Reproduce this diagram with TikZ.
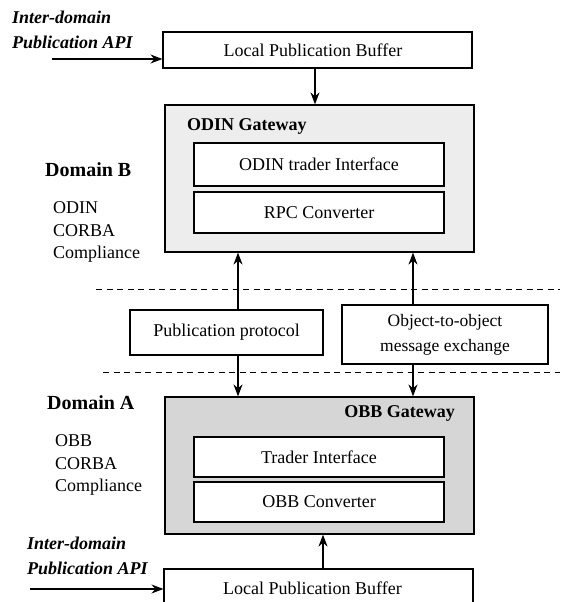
\documentclass[tikz,border=0pt]{standalone}
\usepackage{fontspec}
\setmainfont{Liberation Serif}
\usetikzlibrary{arrows.meta}
\begin{document}
\begin{tikzpicture}[x=1pt,y=-1pt,
  every node/.style={font=\fontsize{18}{21}\selectfont, inner sep=0pt},
  box/.style={draw, line width=1.1pt, fill=white},
  gw/.style={draw, line width=1.2pt},
  arr/.style={line width=1.1pt, -{Stealth[length=12pt,width=9pt]}},
  sep/.style={line width=1pt, dash pattern=on 6pt off 4.5pt},
  api/.style={font=\fontsize{18}{25}\selectfont\bfseries\itshape, align=left, anchor=west},
  dom/.style={font=\fontsize{20}{24}\selectfont\bfseries, anchor=west},
  comp/.style={font=\fontsize{18}{22.5}\selectfont, align=left, anchor=west}]
\useasboundingbox (0,0) rectangle (566,602);

% top buffer
\node[box, minimum width=309pt, minimum height=36pt] (topbuf) at (317.5,50) {};
\node (topbuft) at (313,50) {Local Publication Buffer};
\node[api] (apitop) at (12,29.5) {Inter-domain\\Publication API};
\coordinate (apitopstart) at (52,59);
\draw[arr] (apitopstart) -- (apitopstart -| topbuf.west);

% ODIN gateway
\node[gw, fill=gray!14, minimum width=309pt, minimum height=147pt] (odin) at (319.5,178.5) {};
\node[font=\fontsize{18}{21}\selectfont\bfseries, anchor=west] (odinl) at (187,126) {ODIN Gateway};
\node[box, minimum width=250pt, minimum height=43pt] (odintr) at (319,164.5) {ODIN trader Interface};
\node[box, minimum width=250pt, minimum height=41pt] (rpc) at (319,212.5) {RPC Converter};
\draw[arr] (topbuf.south -| 315,0) -- (odin.north -| 315,0);

\node[dom] (domb) at (45,170) {Domain B};
\node[comp] (compb) at (53,232) {ODIN\\CORBA\\Compliance};

% separators
\coordinate (s1a) at (96,289); \coordinate (s1b) at (560,289);
\coordinate (s2a) at (103,372); \coordinate (s2b) at (560,372);
\draw[sep] (s1a) -- (s1b);
\draw[sep] (s2a) -- (s2b);

% protocol boxes
\node[box, minimum width=193pt, minimum height=45pt] (pub) at (226.5,332.5) {Publication protocol};
\node[box, minimum width=206pt, minimum height=59pt, align=center,
      font=\fontsize{17.5}{25}\selectfont] (obj) at (445,334.5) {Object-to-object\\message exchange};

% OBB gateway
\node[gw, fill=gray!32, minimum width=309pt, minimum height=137pt] (obb) at (319.5,465.5) {};
\node[font=\fontsize{18}{21}\selectfont\bfseries, anchor=east] (obbl) at (455,413) {OBB Gateway};
\node[box, minimum width=250pt, minimum height=40pt] (trader) at (319,457) {Trader Interface};
\node[box, minimum width=250pt, minimum height=40pt] (obbc) at (319,502) {OBB Converter};

\node[dom] (doma) at (47,403) {Domain A};
\node[comp] (compa) at (55,465) {OBB\\CORBA\\Compliance};

\coordinate (la) at (238,0);
\coordinate (ra) at (413,0);
\draw[arr] (pub.north -| la) -- (odin.south -| la);
\draw[arr] (obj.north -| ra) -- (odin.south -| ra);
\draw[arr] (pub.south -| la) -- (obb.north -| la);
\draw[arr] (obj.south -| ra) -- (obb.north -| ra);

% bottom buffer
\node[box, minimum width=309pt, minimum height=34pt] (botbuf) at (318.5,586) {};
\node (botbuft) at (312.5,588) {Local Publication Buffer};
\node[api] (apibot) at (27,556) {Inter-domain\\Publication API};
\coordinate (apibotstart) at (30,589);
\draw[arr] (apibotstart) -- (apibotstart -| botbuf.west);
\draw[arr] (botbuf.north -| 323,0) -- (obb.south -| 323,0);
\end{tikzpicture}
\end{document}
